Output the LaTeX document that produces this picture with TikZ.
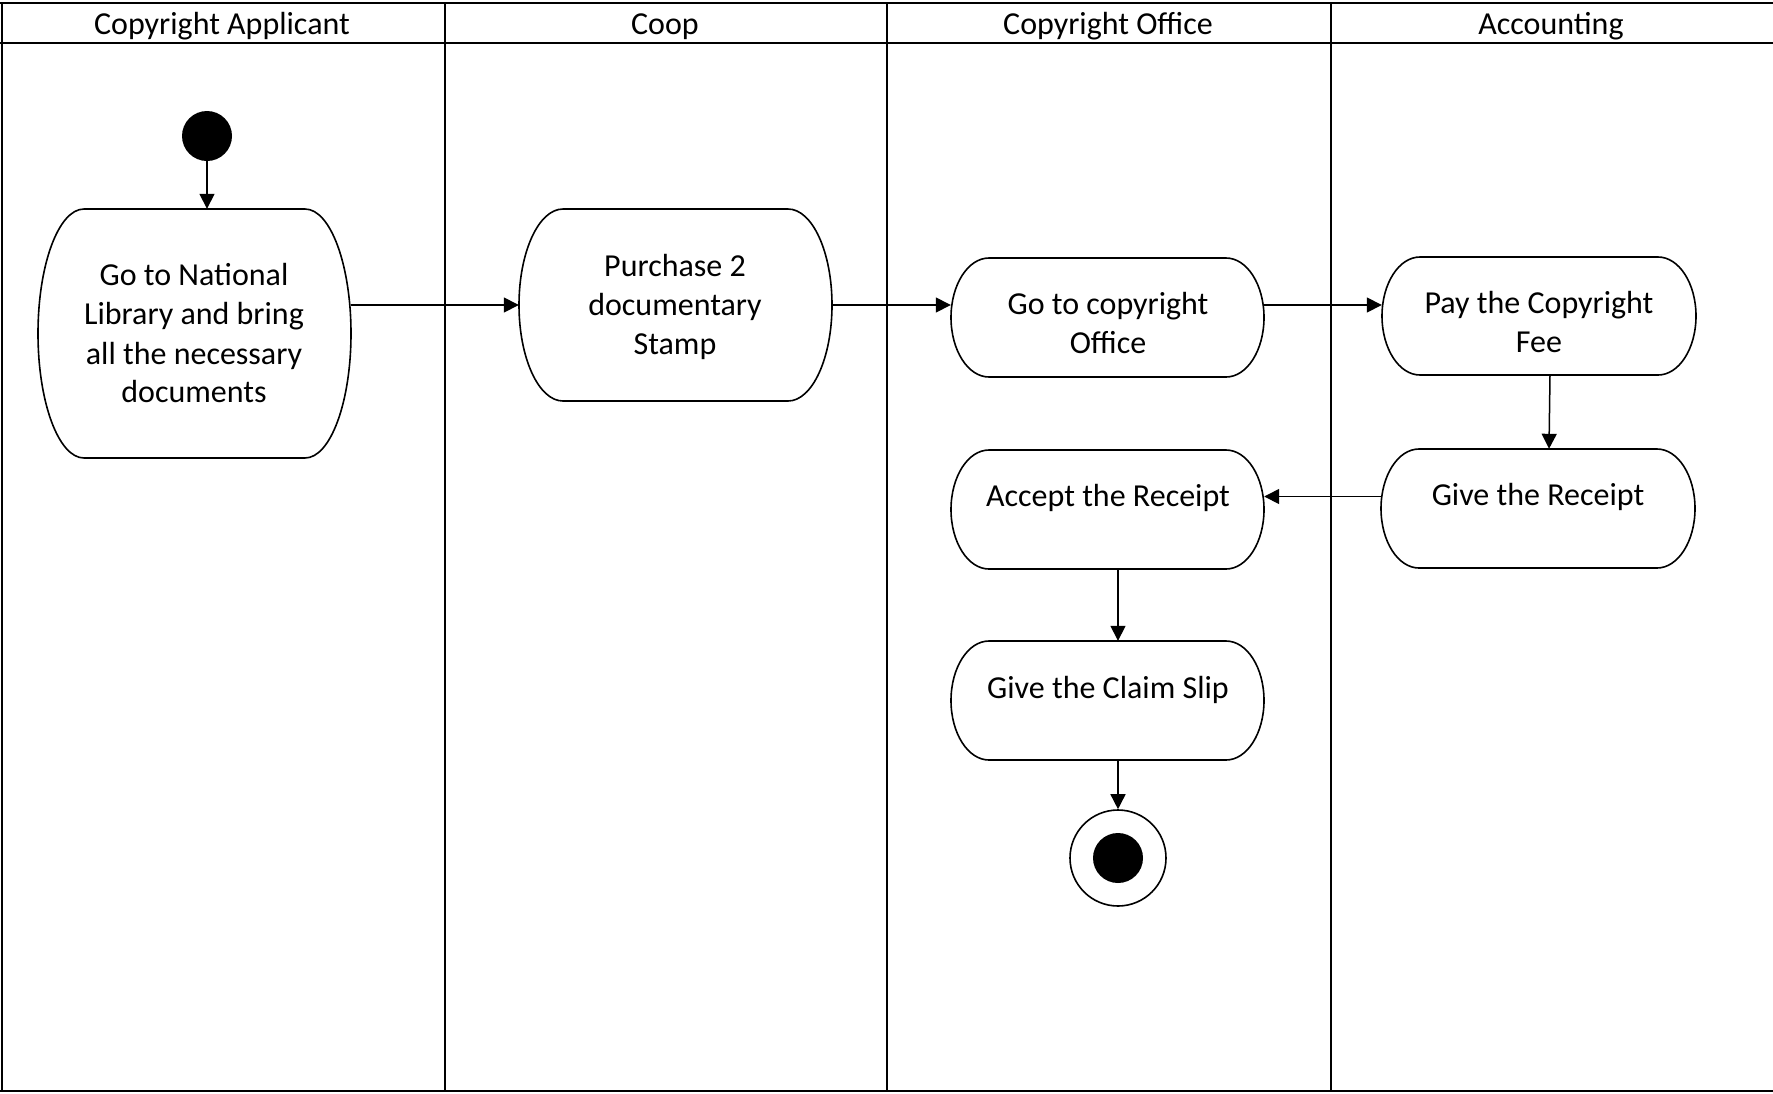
\documentclass[tikz,border=0pt]{standalone}
\usepackage{fontspec}
\setmainfont{Carlito}
\usetikzlibrary{arrows.meta}
\tikzset{
  x=1pt, y=1pt,
  frame/.style={line width=2pt},
  actline/.style={line width=1.6pt},
  actbox/.style={draw=none, inner sep=0pt, rectangle},
  flow/.style={line width=1.5pt, -{Triangle[length=15pt,width=15pt]}},
  lbl/.style={align=center, inner sep=0pt, font=\fontsize{32pt}{39pt}\selectfont},
  startdot/.style={circle, fill=black, minimum size=50pt, inner sep=0pt},
  endring/.style={circle, draw=black, line width=1.6pt, minimum size=96pt, inner sep=0pt},
}
% cx, cy, w, h, rx
\newcommand{\actoutline}[5]{%
  \draw[actline] ({#1-#3/2+#5},{#2+#4/2}) -- ({#1+#3/2-#5},{#2+#4/2})
    arc[start angle=90,end angle=-90,x radius=#5,y radius=#4/2]
    -- ({#1-#3/2+#5},{#2-#4/2})
    arc[start angle=270,end angle=90,x radius=#5,y radius=#4/2] -- cycle;}
\begin{document}
\begin{tikzpicture}
\useasboundingbox (0,0) rectangle (1773,-1093);
\fill[white] (0,0) rectangle (1773,-1093);
% frame
\draw[frame] (0,-3) -- (1773,-3);
\draw[frame] (0,-43) -- (1773,-43);
\draw[frame] (0,-1091) -- (1773,-1091);
\draw[frame] (1.5,-3) -- (1.5,-1091);
\draw[frame] (444.5,-3) -- (444.5,-1091);
\draw[frame] (887,-3) -- (887,-1091);
\draw[frame] (1331,-3) -- (1331,-1091);
% headers
\node[lbl] (h1) at (222,-26.5) {Copyright Applicant};
\node[lbl] (h2) at (665,-26.5) {Coop};
\node[lbl] (h3) at (1108,-26.5) {Copyright Office};
\node[lbl] (h4) at (1551,-26.5) {Accounting};
% activity nodes
\node[actbox, minimum width=313pt, minimum height=249pt] (n1) at (194.5,-333.5) {};
\actoutline{194.5}{-333.5}{313}{249}{46}
\node[lbl] (t1) at (194,-333.5) {Go to National\\Library and bring\\all the necessary\\documents};

\node[actbox, minimum width=313pt, minimum height=192pt] (n2) at (675.5,-305) {};
\actoutline{675.5}{-305}{313}{192}{44}
\node[lbl] (t2) at (675,-306.5) {Purchase 2\\documentary\\Stamp};

\node[actbox, minimum width=313pt, minimum height=119pt] (n3) at (1107.5,-317.5) {};
\actoutline{1107.5}{-317.5}{313}{119}{38}
\node[lbl] (t3) at (1108,-323) {Go to copyright\\Office};

\node[actbox, minimum width=314pt, minimum height=118pt] (n4) at (1539,-316) {};
\actoutline{1539}{-316}{314}{118}{38}
\node[lbl] (t4) at (1539,-321.5) {Pay the Copyright\\Fee};

\node[actbox, minimum width=314pt, minimum height=119pt] (n5) at (1538,-508.5) {};
\actoutline{1538}{-508.5}{314}{119}{38}
\node[lbl] (t5) at (1538,-497) {Give the Receipt};

\node[actbox, minimum width=313pt, minimum height=119pt] (n6) at (1107.5,-509.5) {};
\actoutline{1107.5}{-509.5}{313}{119}{38}
\node[lbl] (t6) at (1108,-498) {Accept the Receipt};

\node[actbox, minimum width=313pt, minimum height=119pt] (n7) at (1107.5,-700.5) {};
\actoutline{1107.5}{-700.5}{313}{119}{38}
\node[lbl] (t7) at (1108,-689.5) {Give the Claim Slip};

% start / end
\node[startdot] (start) at (207,-136) {};
\node[endring] (end) at (1118,-858) {};
\node[startdot] (endin) at (end) {};

% connectors
\draw[flow] (start.south) -- (start |- n1.north);
\draw[flow] (n1.east |- n2.west) -- (n2.west);
\draw[flow] (n2.east) -- (n3.west |- n2.east);
\draw[flow] (n3.east |- n2.east) -- (n4.west |- n2.east);
\draw[flow] ([xshift=11pt]n4.south) -- ([xshift=11pt]n5.north);
\coordinate (c56) at ([yshift=12pt]n5.west);
\draw[flow] (c56) -- (n6.east |- c56);
\draw[flow] ([xshift=10.5pt]n6.south) -- ([xshift=10.5pt]n7.north);
\draw[flow] (n7.south -| end) -- (end.north);
\end{tikzpicture}
\end{document}
